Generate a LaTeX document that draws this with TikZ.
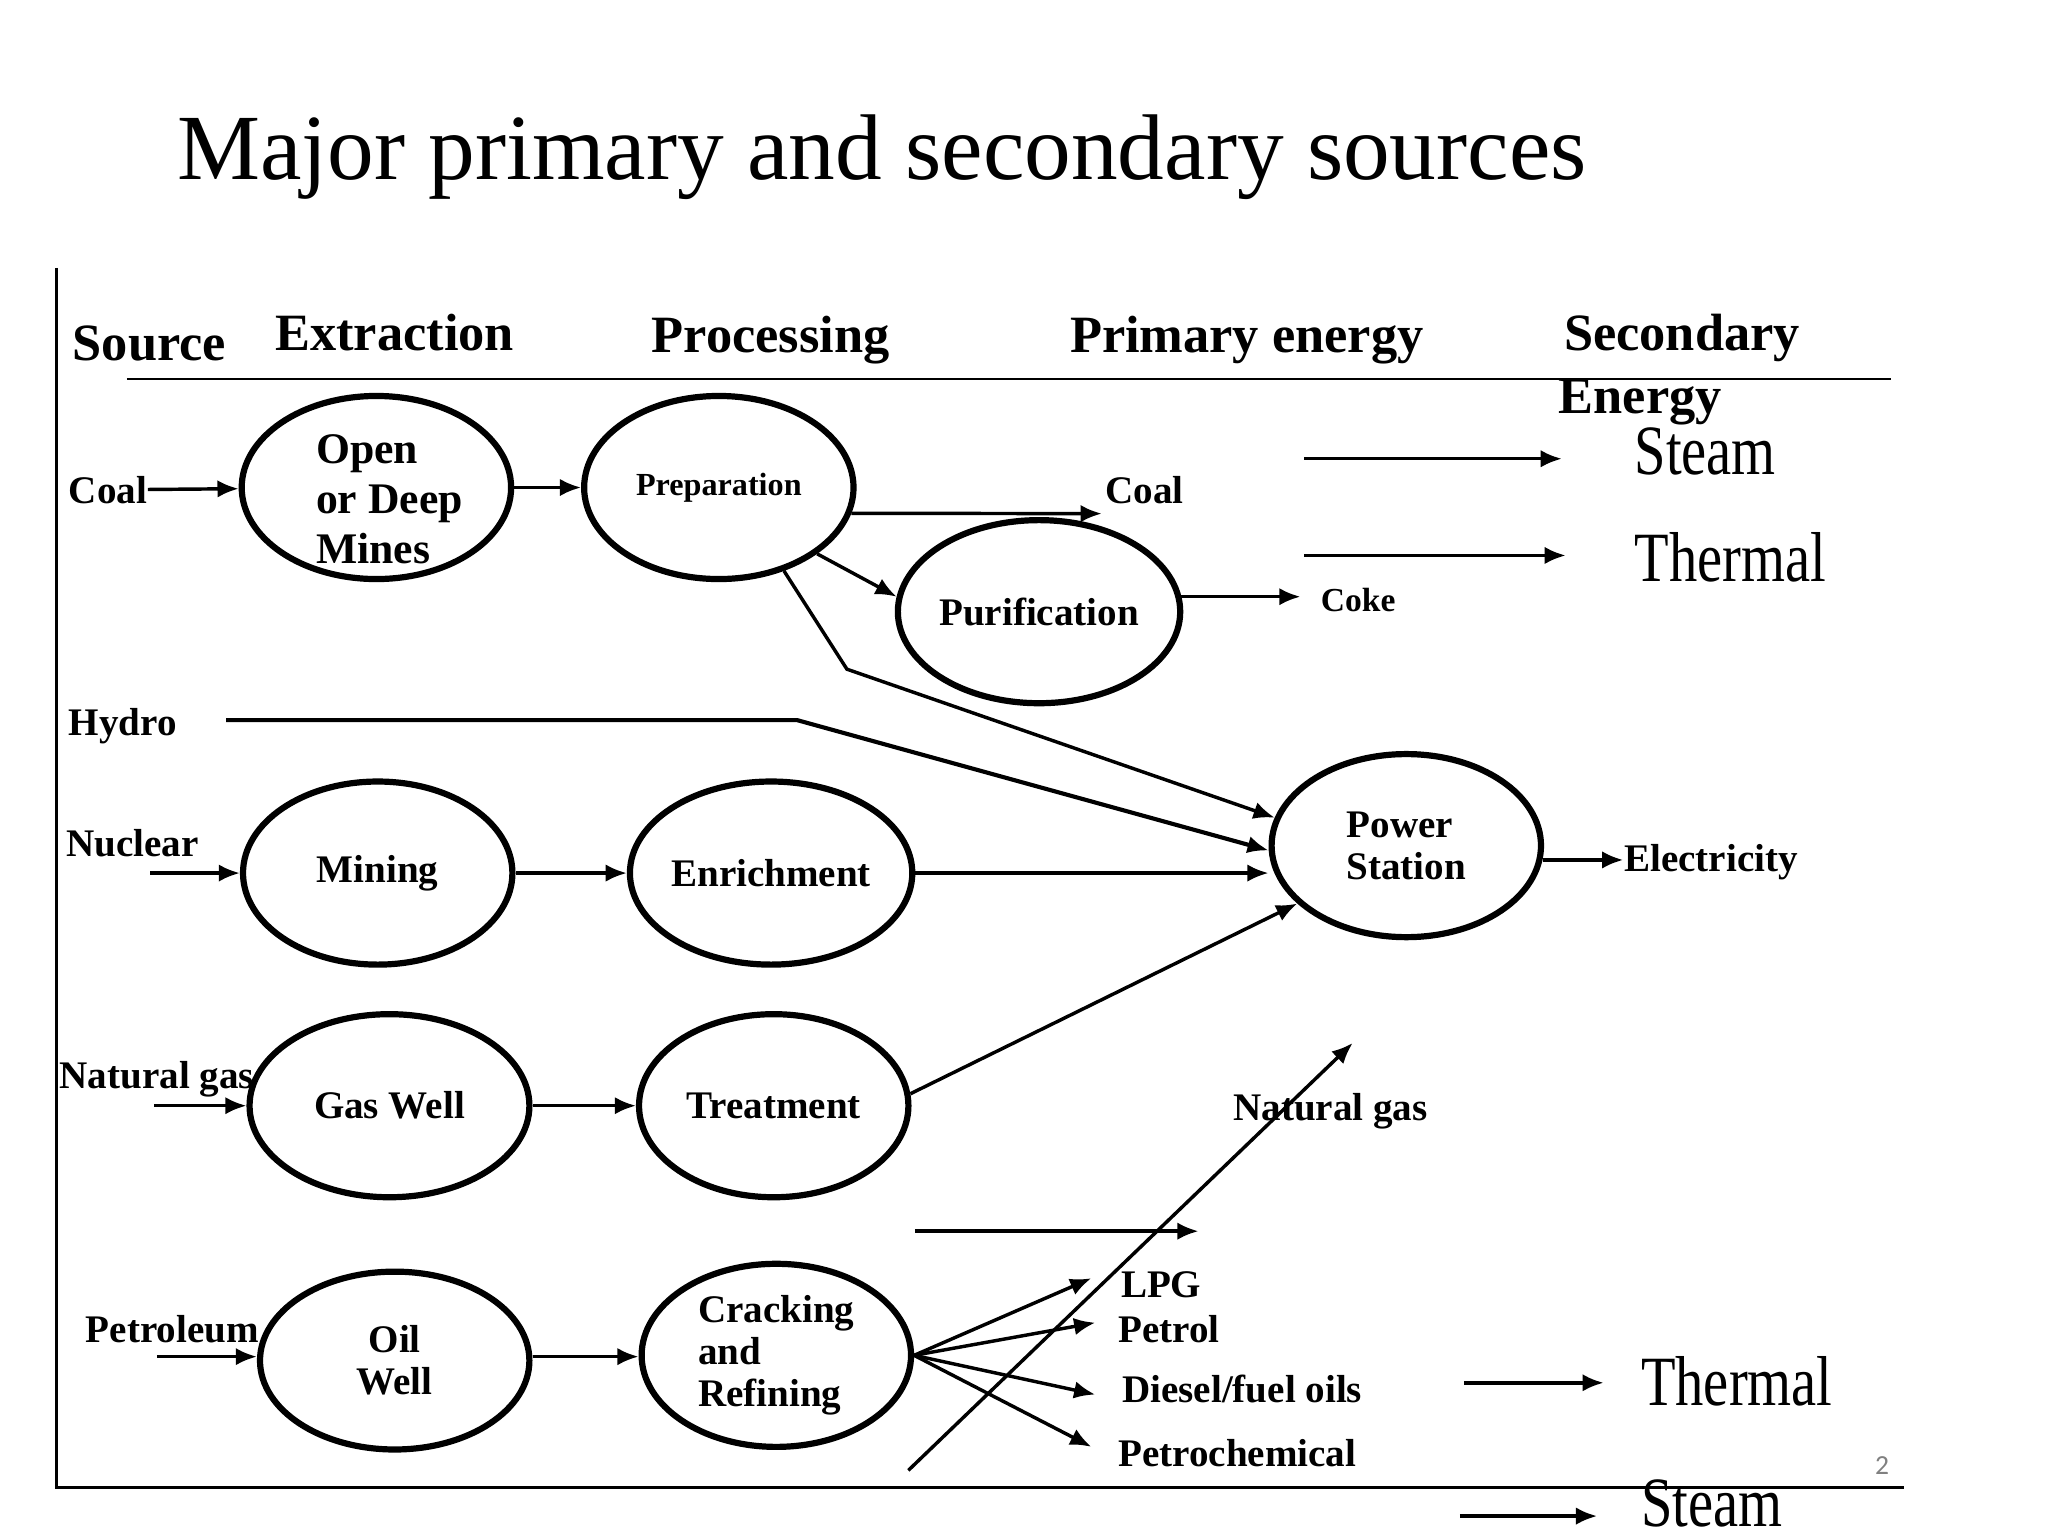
\documentclass[tikz,border=0pt]{standalone}
\usepackage{fontspec}
\setmainfont{Liberation Serif}
\newfontfamily\slidenum{Carlito}
\usetikzlibrary{shapes.geometric,arrows.meta}

\begin{document}
\begin{tikzpicture}[x=0.01cm, y=-0.01cm,
	stage/.style={draw, ellipse, line width=1.35pt, minimum width=2.06cm, minimum height=1.4cm, inner sep=0pt, align=center, font=\fontsize{8.5}{9.2}\selectfont\bfseries},
	stagetext/.style={align=left, inner sep=0pt, font=\fontsize{8.5}{9.2}\selectfont\bfseries},
	lbl/.style={inner sep=0pt, anchor=base west, font=\fontsize{8.5}{9.2}\selectfont\bfseries},
	head/.style={inner sep=0pt, anchor=base west, font=\fontsize{11.4}{13}\selectfont\bfseries},
	big/.style={inner sep=0pt, anchor=base west, font=\fontsize{12.3}{14}\selectfont},
	flow/.style={line width=0.75pt, -{Latex[length=4.6pt, width=3.8pt]}},
	rule/.style={line width=0.6pt}]

	\useasboundingbox (0,0) rectangle (1567,1175);

	\node[inner sep=0pt, anchor=base west, font=\fontsize{20.3}{24}\selectfont] (title) at (135,137) {Major primary and secondary sources};

	\draw[rule] (43,205) -- (43,1138) -- (1457,1138);
	\draw[rule] (97,290) -- (1447,290);

	\node[head] (hsource) at (55,276) {Source};
	\node[head] (hextract) at (210,268) {Extraction};
	\node[head] (hprocess) at (498,270) {Processing};
	\node[head] (hprimary) at (818,270) {Primary energy};
	\node[head] (hsecond) at (1196,268) {Secondary};
	\node[head] (henergy) at (1192,316) {Energy};

	\node[stage, label={[stagetext, font=\fontsize{9.5}{10.8}\selectfont\bfseries, xshift=0.1cm, yshift=-0.09cm]center:Open\\or Deep\\Mines}] (mines) at (288,373) {};
	\node[stage] (prep) at (550,373) {\fontsize{7}{8}\selectfont Preparation};
	\node[stage] (purif) at (795,468) {Purification};
	\node[stage, align=left] (power) at (1076,647) {Power\\Station};
	\node[stage] (mining) at (289,668) {Mining};
	\node[stage] (enrich) at (590,668) {Enrichment};
	\node[stage, minimum width=2.14cm] (gaswell) at (298,846) {Gas Well};
	\node[stage] (treat) at (592,846) {Treatment};
	\node[stage, minimum height=1.36cm] (oilwell) at (302,1041) {Oil\\Well};
	\node[stage, label={[stagetext]center:Cracking\\and\\Refining}] (crack) at (594,1037) {};

	\node[lbl] (coal) at (52,385) {Coal};
	\node[lbl] (hydro) at (52,563) {Hydro};
	\node[lbl] (nuclear) at (50,655) {Nuclear};
	\node[lbl] (natgas) at (45,833) {Natural gas};
	\node[lbl] (petroleum) at (65,1027) {Petroleum};

	\node[lbl] (coalout) at (845,385) {Coal};
	\node[lbl, font=\fontsize{7.3}{8}\selectfont\bfseries] (coke) at (1010,468) {Coke};
	\node[lbl] (elec) at (1242,667) {Electricity};
	\node[lbl] (natgasout) at (943,857) {Natural gas};
	\node[lbl] (lpg) at (857,993) {LPG};
	\node[lbl] (petrol) at (855,1027) {Petrol};
	\node[lbl] (diesel) at (858,1073) {Diesel/fuel oils};
	\node[lbl] (petchem) at (855,1122) {Petrochemical};

	\node[big] (steamA) at (1250,363) {\scalebox{1}[1.25]{Steam}};
	\node[big] (thermA) at (1250,445) {\scalebox{1}[1.25]{Thermal}};
	\node[big] (thermB) at (1255,1075) {\scalebox{1}[1.25]{Thermal}};
	\node[big] (steamB) at (1255,1168) {\scalebox{1}[1.25]{Steam}};

	\node[text=gray, font=\slidenum\fontsize{6}{7}\selectfont] (pagenum) at (1440,1121) {2};

	\coordinate (coalend) at (843,393);
	\coordinate (preproute) at (648,512);
	\coordinate (hydroin) at (173,551);
	\coordinate (hydrobend) at (610,551);
	\coordinate (nucin) at (115,668);
	\coordinate (gasin) at (118,846);
	\coordinate (petin) at (120,1038);
	\coordinate (lpgtip) at (835,978);
	\coordinate (petroltip) at (838,1012);
	\coordinate (dieseltip) at (838,1067);
	\coordinate (petchemtip) at (835,1107);
	\coordinate (ngfoot) at (695,1125);
	\coordinate (ngtip) at (1035,798);
	\coordinate (midin) at (700,942);
	\coordinate (midtip) at (917,942);
	\coordinate (steamAin) at (998,351);
	\coordinate (steamAtip) at (1195,351);
	\coordinate (thermAin) at (998,425);
	\coordinate (thermAtip) at (1198,425);
	\coordinate (thermBin) at (1120,1058);
	\coordinate (thermBtip) at (1227,1058);
	\coordinate (steamBin) at (1117,1160);
	\coordinate (steamBtip) at (1222,1160);

	\draw[flow] (coal) -- (mines);
	\draw[flow] (mines) -- (prep);
	\draw[flow] (prep.-34) -- (purif.174);
	\draw[flow] (prep.-11) -- (coalend);
	\draw[flow, shorten >=0.15cm] (purif.6) -- (purif.6 -| coke.west);
	\draw[flow] (prep.-52) -- (preproute) -- (power.168);
	\draw[flow, line width=0.9pt] (hydroin) -- (hydrobend) -- (power.182);
	\draw[flow] (enrich.east) -- (enrich.east -| power.west);
	\draw[flow] (treat.5) -- (power.208);
	\draw[flow] (power.-6) -- (power.-6 -| elec.west);

	\draw[flow] (nucin) -- (mining);
	\draw[flow] (mining) -- (enrich);
	\draw[flow] (gasin) -- (gaswell);
	\draw[flow] (gaswell) -- (treat);
	\draw[flow] (petin) -- (petin -| oilwell.west);
	\draw[flow] (petin -| oilwell.east) -- (petin -| crack.west);

	\draw[flow] (crack.east) -- (lpgtip);
	\draw[flow] (crack.east) -- (petroltip);
	\draw[flow] (crack.east) -- (dieseltip);
	\draw[flow] (crack.east) -- (petchemtip);
	\draw[flow] (ngfoot) -- (ngtip);
	\draw[flow] (midin) -- (midtip);

	\draw[flow] (steamAin) -- (steamAtip);
	\draw[flow] (thermAin) -- (thermAtip);
	\draw[flow] (thermBin) -- (thermBtip);
	\draw[flow] (steamBin) -- (steamBtip);
\end{tikzpicture}
\end{document}
